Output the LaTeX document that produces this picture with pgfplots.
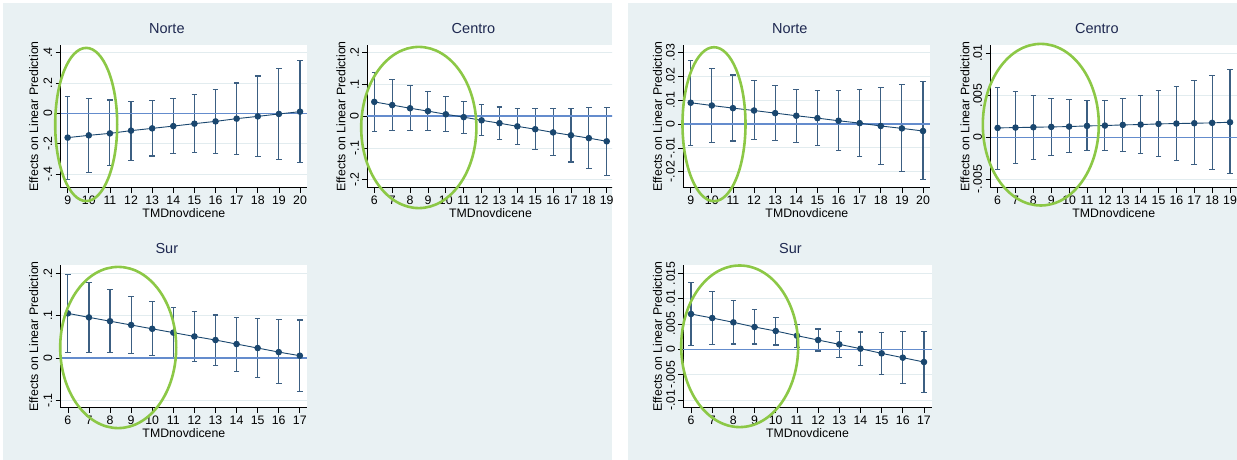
\documentclass[border=0pt]{standalone}
\usepackage{pgfplots}
\usepackage{pgfplotstable}
\pgfplotsset{compat=1.18}
\usepackage{fontspec}
\setmainfont{Liberation Sans}
\definecolor{panelbg}{RGB}{233,241,243}
\definecolor{gridc}{RGB}{226,236,239}
\definecolor{navy}{RGB}{26,71,111}
\definecolor{errc}{RGB}{60,95,130}
\definecolor{zeroc}{RGB}{100,140,205}
\definecolor{ellc}{RGB}{140,200,70}
\definecolor{titlec}{RGB}{30,40,80}

\pgfplotstableread{
x y hi lo
9 -0.160 0.110 -0.435
10 -0.145 0.095 -0.389
11 -0.132 0.088 -0.345
12 -0.114 0.081 -0.310
13 -0.099 0.086 -0.281
14 -0.084 0.097 -0.266
15 -0.068 0.123 -0.259
16 -0.053 0.158 -0.264
17 -0.035 0.200 -0.270
18 -0.020 0.246 -0.286
19 -0.004 0.297 -0.305
20 0.011 0.347 -0.325
}\LN
\pgfplotstableread{
x y hi lo
6 0.045 0.137 -0.047
7 0.035 0.116 -0.045
8 0.025 0.096 -0.044
9 0.016 0.078 -0.045
10 0.006 0.061 -0.048
11 -0.003 0.047 -0.054
12 -0.013 0.036 -0.061
13 -0.022 0.029 -0.072
14 -0.032 0.025 -0.089
15 -0.041 0.024 -0.106
16 -0.051 0.024 -0.124
17 -0.060 0.024 -0.144
18 -0.069 0.026 -0.165
19 -0.079 0.027 -0.186
}\LC
\pgfplotstableread{
x y hi lo
6 0.1055 0.198 0.013
7 0.096 0.179 0.013
8 0.087 0.161 0.0126
9 0.078 0.146 0.010
10 0.069 0.133 0.0055
11 0.060 0.120 0.000
12 0.051 0.109 -0.008
13 0.0425 0.1015 -0.018
14 0.033 0.096 -0.0315
15 0.0236 0.093 -0.045
16 0.014 0.0905 -0.061
17 0.0055 0.0898 -0.079
}\LS
\pgfplotstableread{
x y hi lo
9 0.00896 0.0267 -0.0091
10 0.0078 0.0235 -0.0078
11 0.0067 0.0206 -0.0071
12 0.0057 0.0182 -0.0066
13 0.0046 0.0161 -0.0069
14 0.0035 0.0147 -0.0076
15 0.0025 0.0141 -0.0090
16 0.0014 0.0141 -0.0111
17 0.0004 0.0144 -0.0136
18 -0.0008 0.0154 -0.0168
19 -0.0018 0.0165 -0.0200
20 -0.0029 0.0179 -0.0234
}\RN
\pgfplotstableread{
x y hi lo
6 0.00111 0.00593 -0.00382
7 0.00115 0.00545 -0.00318
8 0.00119 0.00501 -0.00263
9 0.00123 0.00465 -0.00219
10 0.00127 0.00446 -0.00183
11 0.00135 0.00438 -0.00163
12 0.00139 0.00442 -0.00159
13 0.00147 0.00461 -0.00171
14 0.00151 0.00501 -0.00199
15 0.00159 0.00557 -0.00231
16 0.00163 0.00609 -0.00278
17 0.00167 0.00672 -0.00326
18 0.00171 0.00736 -0.00386
19 0.00179 0.00804 -0.00438
}\RC
\pgfplotstableread{
x y hi lo
6 0.00697 0.01322 0.00072
7 0.00618 0.01138 0.00092
8 0.00533 0.00961 0.00105
9 0.00441 0.00789 0.00105
10 0.00362 0.00625 0.00086
11 0.0027 0.00487 0.0004
12 0.00184 0.00401 -0.00033
13 0.00099 0.00355 -0.00158
14 0.00013 0.00342 -0.00322
15 -0.00079 0.00336 -0.00493
16 -0.00164 0.00349 -0.00678
17 -0.0025 0.00355 -0.00855
}\RS

\pgfplotsset{
  stata/.style={
    scale only axis, height=142.7pt, anchor=south west, clip=false,
    axis x line*=bottom, axis y line*=left,
    axis line style={black, line width=0.7pt},
    axis background/.style={fill=white},
    tick align=outside, major tick length=5pt,
    tick style={black, line width=0.7pt},
    xtick distance=1, minor tick num=0,
    scaled y ticks=false, scaled x ticks=false,
    ymajorgrids, grid style={gridc, line width=0.9pt},
    tick label style={font=\fontsize{12.3}{14}\selectfont, black},
    yticklabel style={rotate=90, anchor=south},
    /pgf/number format/assume math mode=true,
    label style={font=\fontsize{12.3}{14}\selectfont, black},
    title style={font=\fontsize{14.5}{16}\selectfont, text=titlec, anchor=center, at={(axis description cs:0.431,1.072)}},
    xlabel={TMDnovdicene},
    ylabel={Effects on Linear Prediction},
    xlabel style={at={(axis description cs:0.5,-0.179)}, anchor=center},
  }
}
\newcommand{\stataplot}[3]{%
  \addplot[only marks, mark=none, forget plot,
    error bars/.cd, y dir=both, y explicit,
    error bar style={errc, line width=1.1pt},
    error mark options={errc, line width=1.1pt, mark size=2.8pt, rotate=90}]
    table[x=x, y=y, y error plus expr=\thisrow{hi}-\thisrow{y}, y error minus expr=\thisrow{y}-\thisrow{lo}] {#1};
  \addplot[zeroc, line width=1.4pt, forget plot] coordinates {(#2,0) (#3,0)};
  \addplot[navy, line width=0.9pt, mark=*, mark size=2.8pt, mark options={fill=navy, draw=navy}] table[x=x, y=y] {#1};
}

\begin{document}
\begin{tikzpicture}
\useasboundingbox (0pt,0pt) rectangle (1237pt,460pt);
\clip (0pt,0pt) rectangle (1237pt,460pt);
\fill[white] (0pt,0pt) rectangle (1237pt,460pt);

% ---------- left panel ----------
\begin{scope}
\clip (0pt,0pt) rectangle (612pt,460pt);
\fill[panelbg] (3pt,0pt) rectangle (612pt,457pt);

\begin{axis}[stata, at={(60.7pt,272.3pt)}, width=246.3pt,
  xmin=8.67, xmax=20.33, ymin=-0.49, ymax=0.4505,
  ytick={-0.4,-0.2,0,0.2,0.4}, yticklabels={-.4,-.2,0,.2,.4},
  ylabel style={at={(axis description cs:-0.1096,0.5)}, anchor=center},
  title={Norte}]
\stataplot{\LN}{8.67}{20.33}
\end{axis}

\begin{axis}[stata, at={(367.3pt,272.3pt)}, width=246.4pt,
  xmin=5.608, xmax=19.39, ymin=-0.225, ymax=0.224,
  ytick={-0.2,-0.1,0,0.1,0.2}, yticklabels={-.2,-.1,0,.1,.2},
  ylabel style={at={(axis description cs:-0.1068,0.5)}, anchor=center},
  title={Centro}]
\stataplot{\LC}{5.608}{19.39}
\end{axis}

\begin{axis}[stata, at={(60.7pt,52.3pt)}, width=246.3pt,
  xmin=5.66, xmax=17.34, ymin=-0.1173, ymax=0.2197,
  ytick={-0.1,0,0.1,0.2}, yticklabels={-.1,0,.1,.2},
  ylabel style={at={(axis description cs:-0.1092,0.5)}, anchor=center},
  title={Sur}]
\stataplot{\LS}{5.66}{17.34}
\end{axis}

\draw[ellc, line width=2.6pt] (86.2pt,335.5pt) ellipse [x radius=31pt, y radius=76.6pt];
\draw[ellc, line width=2.6pt] (418.8pt,332.5pt) ellipse [x radius=57.6pt, y radius=80.6pt];
\draw[ellc, line width=2.6pt] (118.2pt,112.5pt) ellipse [x radius=58pt, y radius=80.6pt];
\end{scope}

% ---------- right panel ----------
\fill[panelbg] (628pt,0pt) rectangle (1237pt,457pt);

\begin{axis}[stata, at={(683.3pt,272.3pt)}, width=247.1pt,
  xmin=8.65, xmax=20.35, ymin=-0.0267, ymax=0.0332,
  ytick={-0.02,-0.01,0,0.01,0.02,0.03}, yticklabels={-.02,-.01,0,.01,.02,.03},
  ylabel style={at={(axis description cs:-0.1044,0.5)}, anchor=center},
  title={Norte}]
\stataplot{\RN}{8.65}{20.35}
\end{axis}

\begin{axis}[stata, at={(990.6pt,272.3pt)}, width=246.4pt,
  xmin=5.608, xmax=19.39, ymin=-0.00602, ymax=0.011,
  ytick={-0.005,0,0.005,0.01}, yticklabels={-.005,0,.005,.01},
  ylabel style={at={(axis description cs:-0.1043,0.5)}, anchor=center},
  title={Centro}]
\stataplot{\RC}{5.608}{19.39}
\end{axis}

\begin{axis}[stata, at={(683.4pt,52.3pt)}, width=248.2pt,
  xmin=5.64, xmax=17.36, ymin=-0.01151, ymax=0.01664,
  ytick={-0.01,-0.005,0,0.005,0.01,0.015}, yticklabels={-.01,-.005,0,.005,.01,.015},
  ylabel style={at={(axis description cs:-0.1043,0.5)}, anchor=center},
  title={Sur}]
\stataplot{\RS}{5.64}{17.36}
\end{axis}

\draw[ellc, line width=2.6pt] (714pt,335.8pt) ellipse [x radius=31.5pt, y radius=77pt];
\draw[ellc, line width=2.6pt] (1040.8pt,335.3pt) ellipse [x radius=58pt, y radius=80.8pt];
\draw[ellc, line width=2.6pt] (739.7pt,113.7pt) ellipse [x radius=58.5pt, y radius=80.8pt];
\end{tikzpicture}
\end{document}
